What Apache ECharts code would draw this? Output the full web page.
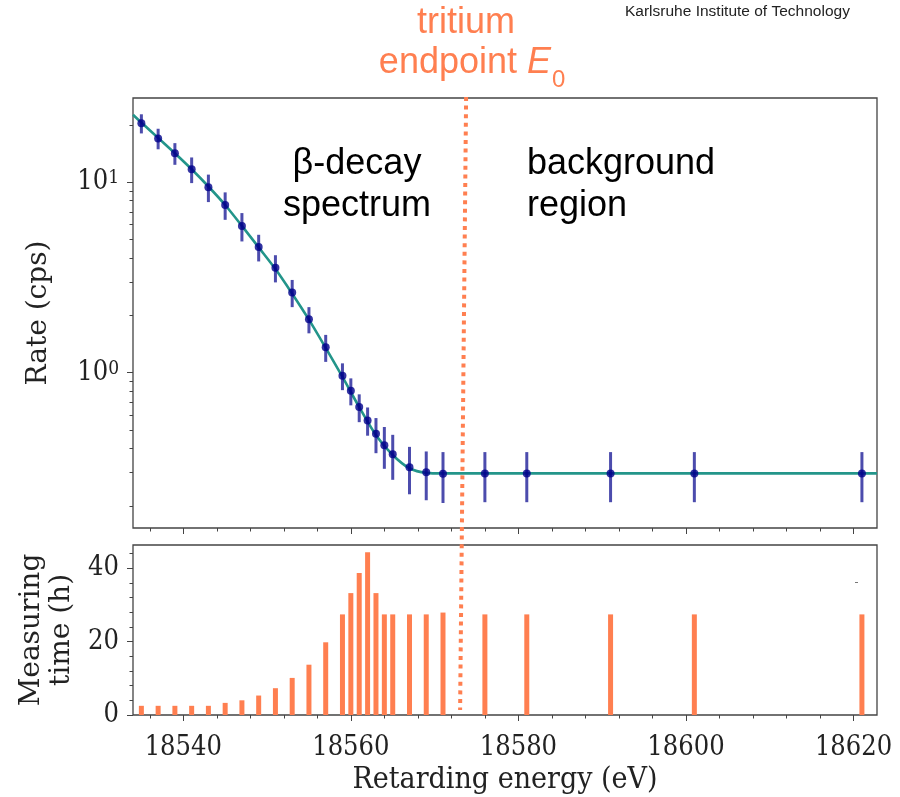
<!DOCTYPE html>
<html>
<head>
<meta charset="utf-8">
<script src="https://cdn.jsdelivr.net/npm/echarts@6/dist/echarts.min.js"></script>
<style>
  html, body { margin: 0; padding: 0; background: #fff; }
  #main { width: 900px; height: 797px; }
</style>
</head>
<body>
<div id="main"></div>
<script>
// retarding energies of the scan steps (eV)
const energies = [18535, 18537, 18539, 18541, 18543, 18545, 18547, 18549, 18551, 18553,
  18555, 18557, 18559, 18560, 18561, 18562, 18563, 18564, 18565, 18567,
  18569, 18571, 18576, 18581, 18591, 18601, 18621];
// measured rate (cps) and its 1-sigma error
const rates = [20.4, 17.0, 14.2, 11.7, 9.42, 7.60, 5.89, 4.57, 3.56, 2.64,
  1.91, 1.36, 0.965, 0.804, 0.660, 0.562, 0.478, 0.416, 0.373, 0.319,
  0.300, 0.295, 0.296, 0.296, 0.296, 0.296, 0.296];
const rateErrors = [2.35, 2.1, 1.85, 1.8, 1.55, 1.25, 1.0, 0.73, 0.58, 0.43,
  0.30, 0.22, 0.155, 0.13, 0.11, 0.095, 0.10, 0.103, 0.099, 0.089,
  0.086, 0.088, 0.087, 0.087, 0.087, 0.087, 0.087];
// measuring time per step (h)
const measuringTime = [2.5, 2.5, 2.5, 2.5, 2.5, 3.3, 4.0, 5.3, 7.3, 10.1,
  13.7, 19.8, 27.4, 33.2, 38.7, 44.3, 33.2, 27.4, 27.4, 27.4,
  27.4, 27.9, 27.4, 27.4, 27.4, 27.4, 27.4];
// fitted model curve
const fitEnergies = [18534, 18535, 18537, 18539, 18541, 18543, 18545, 18547, 18549, 18551,
  18553, 18555, 18557, 18559, 18561, 18563, 18565, 18567, 18569, 18571, 18622.8];
const fitRates = [22.6, 20.6, 17.1, 14.2, 11.7, 9.5, 7.6, 5.9, 4.55, 3.5,
  2.6, 1.9, 1.35, 0.95, 0.66, 0.47, 0.37, 0.315, 0.298, 0.296, 0.296];
const endpointE0 = 18573.4;

// tick labels
const xMajorTicks = [18540, 18560, 18580, 18600, 18620];
const xMinorTicks = [18536, 18544, 18548, 18552, 18556, 18564, 18568, 18572, 18576,
  18584, 18588, 18592, 18596, 18604, 18608, 18612, 18616];
const rateMajorTicks = [1, 10];
const rateMinorTicks = [0.2, 0.3, 0.4, 0.5, 0.6, 0.7, 0.8, 0.9, 2, 3, 4, 5, 6, 7, 8, 9, 20];
const timeMajorTicks = [0, 20, 40];
const timeMinorTicks = [4, 8, 12, 16, 24, 28, 32, 36, 44];

const serif = "'DejaVu Serif Condensed', 'DejaVu Serif', serif";
const serifWide = "'DejaVu Serif', serif";
const sans = "'Liberation Sans', Arial, sans-serif";
const frame = '#444';
const coral = '#ff7f50';

let myChart = echarts.init(document.getElementById('main'), null, { renderer: 'canvas' });

function xAxisDef(grid, ticks, len, showLabel) {
  return {
    type: 'value', gridIndex: grid, position: 'bottom', min: 18534, max: 18622.8,
    axisLine: { show: false },
    splitLine: { show: false },
    axisTick: { show: true, customValues: ticks, length: len, lineStyle: { color: frame, width: 1 } },
    axisLabel: showLabel ? {
      show: true, customValues: ticks, margin: 19,
      formatter: v => String(v),
      fontFamily: serif, fontSize: 27, color: '#222'
    } : { show: false }
  };
}

let option = {
  animation: false,
  backgroundColor: '#fff',
  grid: [
    { left: 133, right: 23, top: 98, height: 430, show: true, borderColor: frame, borderWidth: 1.3 },
    { left: 133, right: 23, top: 545, height: 170, show: true, borderColor: frame, borderWidth: 1.3 }
  ],
  xAxis: [
    xAxisDef(0, xMajorTicks, 6, false),
    xAxisDef(0, xMinorTicks, 3.5, false),
    Object.assign(xAxisDef(1, xMajorTicks, 6, true), {
      name: 'Retarding energy (eV)', nameLocation: 'middle', nameGap: 50,
      nameTextStyle: { fontFamily: serif, fontSize: 30, color: '#222' }
    }),
    xAxisDef(1, xMinorTicks, 3.5, false)
  ],
  yAxis: [
    {
      type: 'log', logBase: 10, gridIndex: 0, position: 'left', min: 0.153, max: 27.7,
      name: 'Rate (cps)', nameLocation: 'middle', nameGap: 80,
      nameTextStyle: { fontFamily: serifWide, fontSize: 28, color: '#222' },
      axisLine: { show: false }, splitLine: { show: false },
      axisTick: { customValues: rateMajorTicks, length: 6, lineStyle: { color: frame } },
      axisLabel: {
        customValues: rateMajorTicks, margin: 14,
        formatter: v => '{b|10}{e|' + Math.round(Math.log10(v)) + '}',
        rich: {
          b: { fontFamily: serif, fontSize: 27, color: '#222' },
          e: { fontFamily: serif, fontSize: 19, color: '#222', verticalAlign: 'top' }
        }
      }
    },
    {
      type: 'log', logBase: 10, gridIndex: 0, position: 'left', offset: 0, min: 0.153, max: 27.7,
      axisLine: { show: false }, splitLine: { show: false },
      axisTick: { customValues: rateMinorTicks, length: 3.5, lineStyle: { color: frame } },
      axisLabel: { show: false }
    },
    {
      type: 'value', gridIndex: 1, position: 'left', min: 0, max: 46.3,
      name: 'Measuring\ntime (h)', nameLocation: 'middle', nameGap: 56,
      nameTextStyle: { fontFamily: serifWide, fontSize: 28, color: '#222', lineHeight: 30 },
      axisLine: { show: false }, splitLine: { show: false },
      axisTick: { customValues: timeMajorTicks, length: 6, lineStyle: { color: frame } },
      axisLabel: { customValues: timeMajorTicks, margin: 14, fontFamily: serif, fontSize: 27, color: '#222' }
    },
    {
      type: 'value', gridIndex: 1, position: 'left', offset: 0, min: 0, max: 46.3,
      axisLine: { show: false }, splitLine: { show: false },
      axisTick: { customValues: timeMinorTicks, length: 3.5, lineStyle: { color: frame } },
      axisLabel: { show: false }
    }
  ],
  series: [
    {
      name: 'fit', type: 'line', xAxisIndex: 0, yAxisIndex: 0,
      data: fitEnergies.map((e, i) => [e, fitRates[i]]),
      smooth: 0.3, showSymbol: false, z: 2,
      lineStyle: { color: '#23958a', width: 2.6 }
    },
    {
      name: 'errors', type: 'custom', xAxisIndex: 0, yAxisIndex: 0, z: 3,
      data: energies.map((e, i) => [e, rates[i] - rateErrors[i], rates[i] + rateErrors[i]]),
      encode: { x: 0, y: [1, 2] },
      renderItem: function (params, api) {
        const p1 = api.coord([api.value(0), api.value(1)]);
        const p2 = api.coord([api.value(0), api.value(2)]);
        return {
          type: 'line',
          shape: { x1: p1[0], y1: p1[1], x2: p2[0], y2: p2[1] },
          style: { stroke: 'rgba(25,25,150,0.78)', lineWidth: 3 }
        };
      }
    },
    {
      name: 'data', type: 'scatter', xAxisIndex: 0, yAxisIndex: 0, z: 4,
      data: energies.map((e, i) => [e, rates[i]]),
      symbolSize: 8, itemStyle: { color: '#00008b' }
    },
    {
      name: 'time', type: 'bar', xAxisIndex: 2, yAxisIndex: 2,
      data: energies.map((e, i) => [e, measuringTime[i]]),
      barWidth: 5, itemStyle: { color: coral }
    }
  ]
};

myChart.setOption(option);

// annotations, the endpoint line follows the x scale
const ex = myChart.convertToPixel({ xAxisIndex: 0 }, endpointE0);
myChart.setOption({
  graphic: [
    {
      type: 'line', z: 100,
      shape: { x1: ex + 3, y1: 97, x2: ex - 3, y2: 710 },
      style: { stroke: coral, lineWidth: 4, lineDash: [4, 4.6] }
    },
    {
      type: 'text', x: 466, y: 23,
      style: { text: 'tritium', font: '36px ' + sans, fill: coral, align: 'center', verticalAlign: 'middle' }
    },
    {
      type: 'text', x: 551, y: 63,
      style: {
        text: '{n|endpoint }{i|E}', align: 'right', verticalAlign: 'middle',
        rich: {
          n: { fontFamily: sans, fontSize: 36, fill: coral },
          i: { fontFamily: sans, fontSize: 36, fontStyle: 'italic', fill: coral }
        }
      }
    },
    {
      type: 'text', x: 552, y: 80,
      style: { text: '0', font: '24px ' + sans, fill: coral, align: 'left', verticalAlign: 'middle' }
    },
    {
      type: 'text', x: 357, y: 143,
      style: { text: 'β-decay\nspectrum', font: '36px ' + sans, lineHeight: 42, fill: '#000', align: 'center', verticalAlign: 'top' }
    },
    {
      type: 'text', x: 527, y: 143,
      style: { text: 'background\nregion', font: '36px ' + sans, lineHeight: 42, fill: '#000', align: 'left', verticalAlign: 'top' }
    },
    {
      type: 'text', x: 625, y: 12,
      style: { text: 'Karlsruhe Institute of Technology', font: '15.5px ' + sans, fill: '#222', align: 'left', verticalAlign: 'middle' }
    },
    {
      type: 'rect', shape: { x: 855, y: 582, width: 3, height: 1 },
      style: { fill: '#777' }
    }
  ]
});
</script>
</body>
</html>
